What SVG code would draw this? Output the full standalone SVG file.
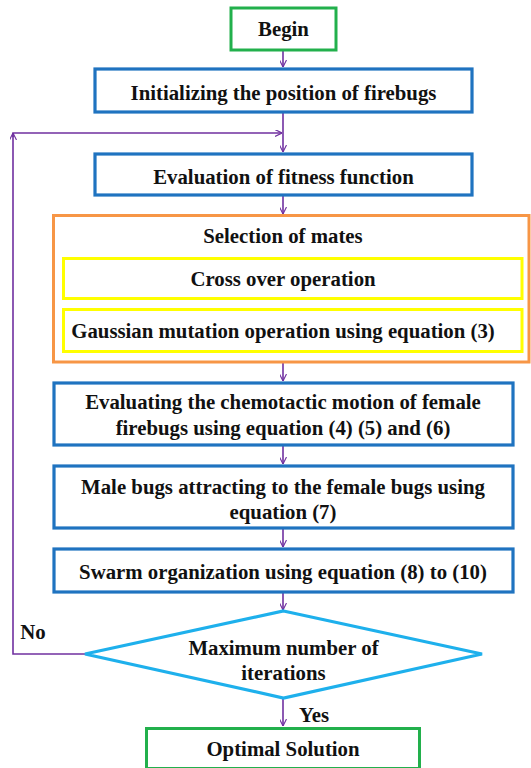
<svg xmlns="http://www.w3.org/2000/svg" width="531" height="768" viewBox="0 0 531 768">
<defs>
<marker id="ah" viewBox="0 0 10 10" refX="10" refY="5" markerWidth="7" markerHeight="7" markerUnits="userSpaceOnUse" orient="auto"><path d="M0,0 L10,5 L0,10" fill="none" stroke="#7030a0" stroke-width="1.6"/></marker>
</defs>
<style>
.g{fill:#fff;stroke:#22b04c;stroke-width:3}
.b{fill:#fff;stroke:#1f73c0;stroke-width:3.2}
.o{fill:#fff;stroke:#f79646;stroke-width:3}
.y{fill:#fff;stroke:#ffff00;stroke-width:3}
.d{fill:#fff;stroke:#1eb0ec;stroke-width:3.2}
.c{fill:none;stroke:#7030a0;stroke-width:1.6}
</style>
<rect width="531" height="768" fill="#fff"/>
<g font-family="Liberation Serif, serif" font-weight="bold" font-size="20.8" fill="#111" text-anchor="middle">
<g id="connectors">
<line class="c" x1="283" y1="50" x2="283" y2="67" marker-end="url(#ah)"/>
<line class="c" x1="283" y1="113" x2="283" y2="152" marker-end="url(#ah)"/>
<polyline class="c" points="85,654 13,654 13,133 282,133" marker-end="url(#ah)"/>
<line class="c" x1="13" y1="137" x2="13" y2="133" marker-end="url(#ah)"/>
<line class="c" x1="283" y1="196" x2="283" y2="214" marker-end="url(#ah)"/>
<line class="c" x1="283" y1="363" x2="283" y2="381" marker-end="url(#ah)"/>
<line class="c" x1="283" y1="446" x2="283" y2="464" marker-end="url(#ah)"/>
<line class="c" x1="283" y1="529" x2="283" y2="547" marker-end="url(#ah)"/>
<line class="c" x1="283" y1="593" x2="283" y2="610" marker-end="url(#ah)"/>
<line class="c" x1="283" y1="698" x2="283" y2="726" marker-end="url(#ah)"/>
<text x="33" y="639">No</text>
<text x="314" y="722">Yes</text>
</g>
<g id="begin"><rect class="g" x="231" y="8" width="105" height="42"/><text x="283.5" y="36">Begin</text></g>
<g id="init"><rect class="b" x="95" y="69" width="377" height="43"/><text x="283.5" y="100">Initializing the position of firebugs</text></g>
<g id="eval"><rect class="b" x="95" y="154" width="377" height="41"/><text x="283.5" y="184">Evaluation of fitness function</text></g>
<g id="selection"><rect class="o" x="53.5" y="215.5" width="475.5" height="146.5"/><text x="283" y="243">Selection of mates</text></g>
<g id="crossover"><rect class="y" x="63.5" y="258.5" width="458.5" height="40"/><text x="283" y="286">Cross over operation</text></g>
<g id="mutation"><rect class="y" x="63.5" y="309.5" width="458.5" height="42"/><text x="283" y="338">Gaussian mutation operation using equation (3)</text></g>
<g id="chemotactic"><rect class="b" x="54" y="383" width="459" height="62"/><text x="283" y="409">Evaluating the chemotactic motion of female</text><text x="283" y="435">firebugs using equation (4) (5) and (6)</text></g>
<g id="male"><rect class="b" x="54" y="466" width="459" height="62"/><text x="283" y="494">Male bugs attracting to the female bugs using</text><text x="283" y="519">equation (7)</text></g>
<g id="swarm"><rect class="b" x="54" y="549" width="459" height="43"/><text x="283" y="579">Swarm organization using equation (8) to (10)</text></g>
<g id="decision"><polygon class="d" points="283.5,611 482,654 283.5,698 85,654"/><text x="283.5" y="655">Maximum number of</text><text x="283.5" y="680">iterations</text></g>
<g id="optimal"><rect class="g" x="146.5" y="728.5" width="273" height="40"/><text x="283" y="756">Optimal Solution</text></g>
</g>
</svg>
